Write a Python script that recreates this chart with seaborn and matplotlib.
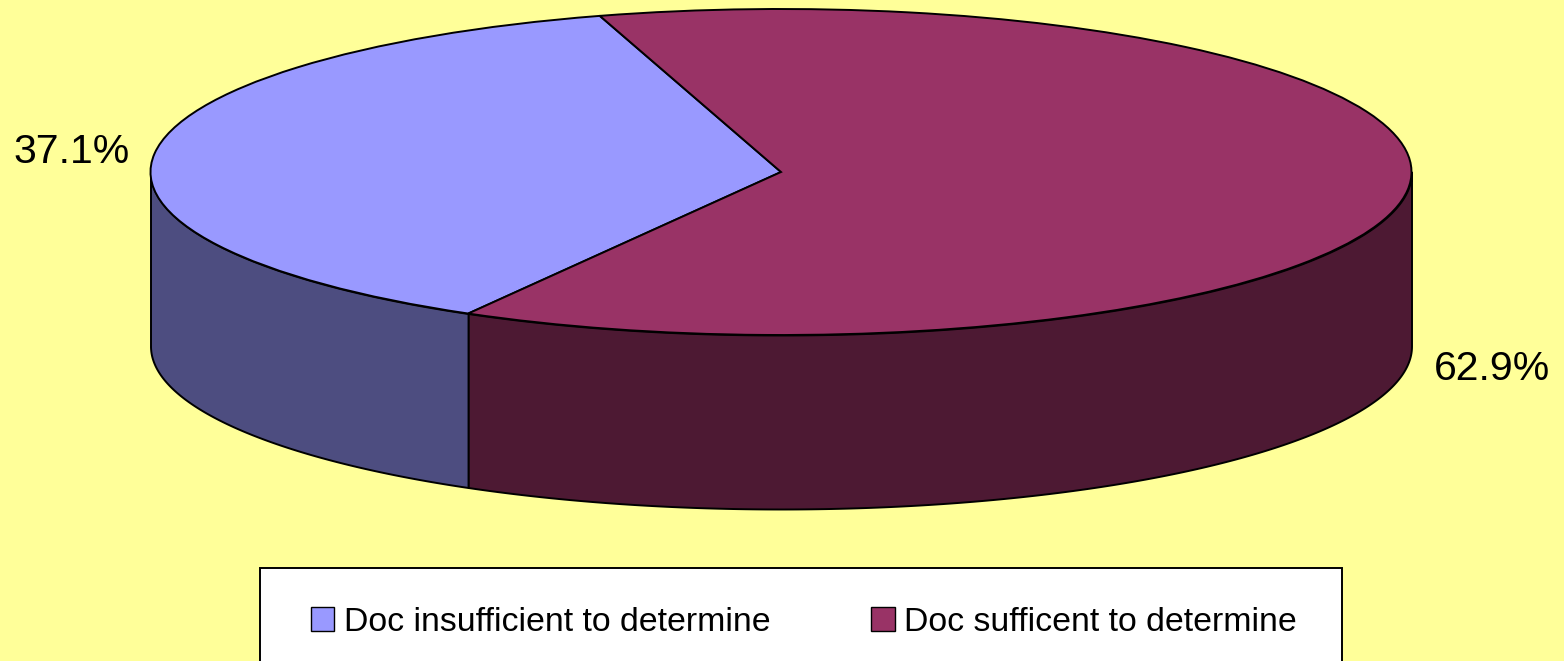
import matplotlib
matplotlib.use("Agg")
import matplotlib.pyplot as plt
from matplotlib.patches import Patch, Rectangle
import numpy as np
import seaborn as sns

sns.set_theme(style="white")
plt.rcParams["font.family"] = ["Liberation Sans", "DejaVu Sans"]

# -------------------------------
# DATA
# -------------------------------
labels = ["Doc insufficient to determine", "Doc sufficent to determine"]
shares = [37.1, 62.9]
share_labels = ["37.1%", "62.9%"]

top_colors = ["#9999FF", "#993366"]
side_colors = ["#4D4D80", "#4D1933"]
background = "#FFFF99"

W, H = 1564, 661
CX, CY = 781, 172   # ellipse centre, px
RX, RY = 630.5, 163  # ellipse radii, px
DEPTH = 174 / RY
START = 106.7

fig = plt.figure(figsize=(W / 100, H / 100), dpi=100, facecolor=background)
ax = fig.add_axes([0, 0, 1, 1])

# side walls first, the pie goes on top
edges = START + np.cumsum([0] + shares) * 3.6
for i in range(len(shares)):
    lo = max(edges[i], 180)
    hi = min(edges[i + 1], 360)
    if hi <= lo:
        continue
    t = np.radians(np.linspace(lo, hi, 200))
    ax.fill_between(np.cos(t), np.sin(t), np.sin(t) - DEPTH,
                    facecolor=side_colors[i], edgecolor="black", linewidth=1.4)

ax.pie(shares, colors=top_colors, startangle=START, radius=1,
       wedgeprops={"edgecolor": "black", "linewidth": 1.4})
ax.set_aspect("auto")
ax.set_xlim(-CX / RX, (W - CX) / RX)
ax.set_ylim(-(H - CY) / RY, CY / RY)

ax.text((71.5 - CX) / RX, (CY - 152) / RY, share_labels[0], fontsize=29.5,
        color="black", ha="center", va="center")
ax.text((1491.5 - CX) / RX, (CY - 369) / RY, share_labels[1], fontsize=29.5,
        color="black", ha="center", va="center")

# legend box runs off the bottom of the figure like the original
fig.add_artist(Rectangle((260 / W, -0.05), (1342 - 260) / W, 1 - 568 / H + 0.05,
                         transform=fig.transFigure, facecolor="white",
                         edgecolor="black", linewidth=1.4))
handles = [Patch(facecolor=c, edgecolor="black", linewidth=1) for c in top_colors]
leg = fig.legend(handles, labels, ncol=2, loc="upper left",
                 bbox_to_anchor=(311 / W, 1 - 607 / H), bbox_transform=fig.transFigure,
                 fontsize=24.4, frameon=False, borderaxespad=0, borderpad=0,
                 handlelength=0.68, handleheight=0.68,
                 handletextpad=0.29, columnspacing=2.98, labelspacing=0)
for t in leg.get_texts():
    t.set_color("black")

fig.savefig("out.png", dpi=100, facecolor=background)
